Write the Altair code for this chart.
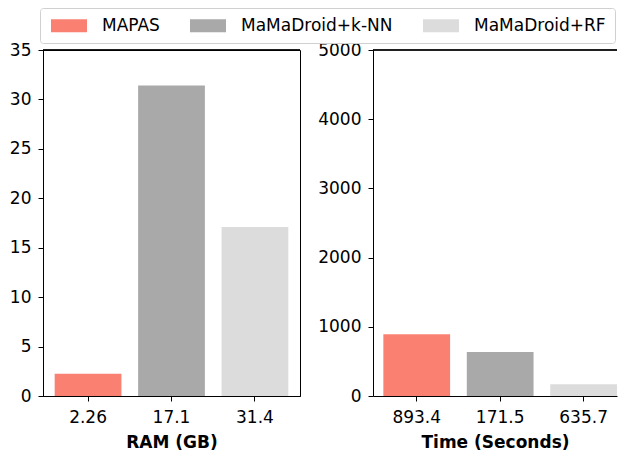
import altair as alt
import pandas as pd

methods = ["MAPAS", "MaMaDroid+k-NN", "MaMaDroid+RF"]
colors = ["#FA8072", "#A9A9A9", "#DCDCDC"]

ram_tick_labels = ["2.26", "17.1", "31.4"]
ram_values = [2.26, 31.4, 17.1]

time_tick_labels = ["893.4", "171.5", "635.7"]
time_values = [893.4, 635.7, 171.5]

ram_df = pd.DataFrame({"method": methods, "label": ram_tick_labels, "value": ram_values})
time_df = pd.DataFrame({"method": methods, "label": time_tick_labels, "value": time_values})

FONT = "DejaVu Sans"
H = 346

color_enc = alt.Color(
    "method:N",
    scale=alt.Scale(domain=methods, range=colors),
    legend=alt.Legend(
        title=None,
        orient="none",
        legendX=-3,
        legendY=-42,
        direction="horizontal",
        symbolType="M-1,-1H4.538V1H-1Z",
        symbolSize=169,
        symbolStrokeWidth=0,
        labelFont=FONT,
        labelFontSize=17,
        labelColor="black",
        labelOffset=36,
        columnPadding=28,
        padding=9,
        strokeColor="#d0d0d0",
        fillColor="white",
        cornerRadius=3,
    ),
)


def panel(df, labels, ymax, step, title, width, pad_outer, align):
    bars = (
        alt.Chart(df)
        .mark_bar()
        .encode(
            x=alt.X(
                "label:N",
                sort=labels,
                title=title,
                scale=alt.Scale(paddingInner=0.2, paddingOuter=pad_outer, align=align),
                axis=alt.Axis(labelAngle=0, labelPadding=8, titlePadding=9),
            ),
            y=alt.Y(
                "value:Q",
                title=None,
                scale=alt.Scale(domain=[0, ymax], nice=False),
                axis=alt.Axis(
                    values=list(range(0, ymax + 1, step)),
                    format="d",
                    grid=False,
                    labelPadding=7,
                ),
            ),
            color=color_enc,
        )
    )
    top_spine = alt.Chart(df).mark_rule(color="black", strokeWidth=1).encode(
        x=alt.value(0), x2=alt.value(width), y=alt.value(0)
    )
    return alt.layer(bars, top_spine).properties(width=width, height=H)


left = panel(ram_df, ram_tick_labels, 35, 5, "RAM (GB)", 257, 0.14, 0.5).properties(
    view=alt.ViewBackground(stroke="black", strokeWidth=1)
)
right = panel(time_df, time_tick_labels, 5000, 1000, "Time (Seconds)", 244, 0.062, 1).properties(
    view=alt.ViewBackground(stroke="transparent")
)

chart = (
    alt.hconcat(left, right, spacing=16)
    .properties(padding={"left": 0, "top": -1, "right": 0, "bottom": -1})
    .configure_axis(
        domainColor="black",
        tickColor="black",
        labelColor="black",
        titleColor="black",
        labelFont=FONT,
        titleFont=FONT,
        labelFontSize=17,
        titleFontSize=17,
        titleFontWeight="bold",
        labelFontWeight="normal",
        tickSize=5,
        domainWidth=1,
        tickWidth=1,
    )
)

chart.save("out.html", embed_options={"renderer": "svg", "actions": False})
